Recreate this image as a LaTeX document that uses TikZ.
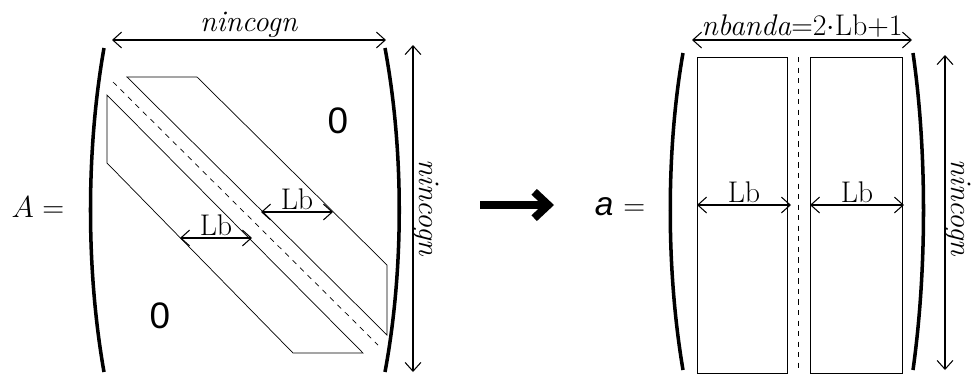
\documentclass[tikz,border=0pt]{standalone}
\usepackage{fontspec}
\setsansfont{Liberation Sans}
\usetikzlibrary{positioning, arrows.meta, calc}

\tikzset{
    dim/.style={{Straight Barb[length=5pt,width=9pt]}-{Straight Barb[length=5pt,width=9pt]}, semithick},
    band/.style={draw, thin},
    paren/.style={line width=2pt},
    lbl/.style={font=\fontsize{17}{19}\selectfont, inner sep=1pt},
    vlbl/.style={lbl, rotate=-90, anchor=base},
    zero/.style={font=\sffamily\fontsize{21}{24}\selectfont},
}

\begin{document}
\begin{tikzpicture}[x=0.02cm, y=-0.02cm]
    \useasboundingbox (0,0) rectangle (974,380);

    % Full matrix A
    \node[lbl, font=\fontsize{19}{21}\selectfont] (Aeq) at (38,207) {$A =$};
    \draw[paren] (104,48) .. controls (86,150) and (86,270) .. (104,372);
    \draw[paren] (385,48) .. controls (404,150) and (404,270) .. (385,372);

    \draw[band] (127,77) -- (197,77) -- (387,265) -- (387,335) -- cycle;
    \draw[band] (107,95) -- (363,353) -- (293,353) -- (107,163) -- cycle;
    \draw[dashed, thin] (113,82) -- (378,345);

    \node[zero] (zU) at (338,121) {0};
    \node[zero] (zL) at (160,316) {0};

    \coordinate (nL) at (112,40);
    \coordinate (nR) at (386,40);
    \draw[dim] (nL) -- node[lbl, above] {\textit{nincogn}} (nR);
    \coordinate (nT) at (413,45);
    \coordinate (nB) at (413,372);
    \draw[dim] (nT) -- (nB);
    \node[vlbl] (nV) at (419,208) {\textit{nincogn}};

    \coordinate (uL) at (261,212);
    \coordinate (uR) at (333,212);
    \draw[dim] (uL) -- node[lbl, above] {Lb} (uR);
    \coordinate (dL) at (180,238);
    \coordinate (dR) at (252,238);
    \draw[dim] (dL) -- node[lbl, above] {Lb} (dR);

    % Arrow between
    \coordinate (gS) at (480,205);
    \coordinate (gE) at (554,205);
    \draw[line width=4.5pt, -{Straight Barb[length=8pt,width=15pt]}] (gS) -- (gE);

    % Band storage a
    \node[lbl, font=\fontsize{19}{21}\selectfont] (aeq) at (620,207) {{\sffamily\itshape a} $=$};
    \draw[paren] (683,53) .. controls (666,150) and (666,270) .. (683,370);
    \draw[paren] (913,53) .. controls (927,150) and (927,270) .. (913,370);

    \draw[band] (697,57) rectangle (787,373);
    \draw[band] (810,57) rectangle (902,373);
    \draw[dashed, thin] (798,57) -- (798,373);

    \coordinate (bL) at (692,40);
    \coordinate (bR) at (912,40);
    \draw[dim] (bL) -- node[lbl, above] {\textit{nbanda}=2$\cdot$Lb+1} (bR);
    \coordinate (bT) at (945,55);
    \coordinate (bB) at (945,370);
    \draw[dim] (bT) -- (bB);
    \node[vlbl] (bV) at (951,208) {\textit{nincogn}};

    \coordinate (lL) at (697,205);
    \coordinate (lR) at (791,205);
    \draw[dim] (lL) -- node[lbl, above] {Lb} (lR);
    \coordinate (rL) at (810,205);
    \coordinate (rR) at (904,205);
    \draw[dim] (rL) -- node[lbl, above] {Lb} (rR);
\end{tikzpicture}
\end{document}
